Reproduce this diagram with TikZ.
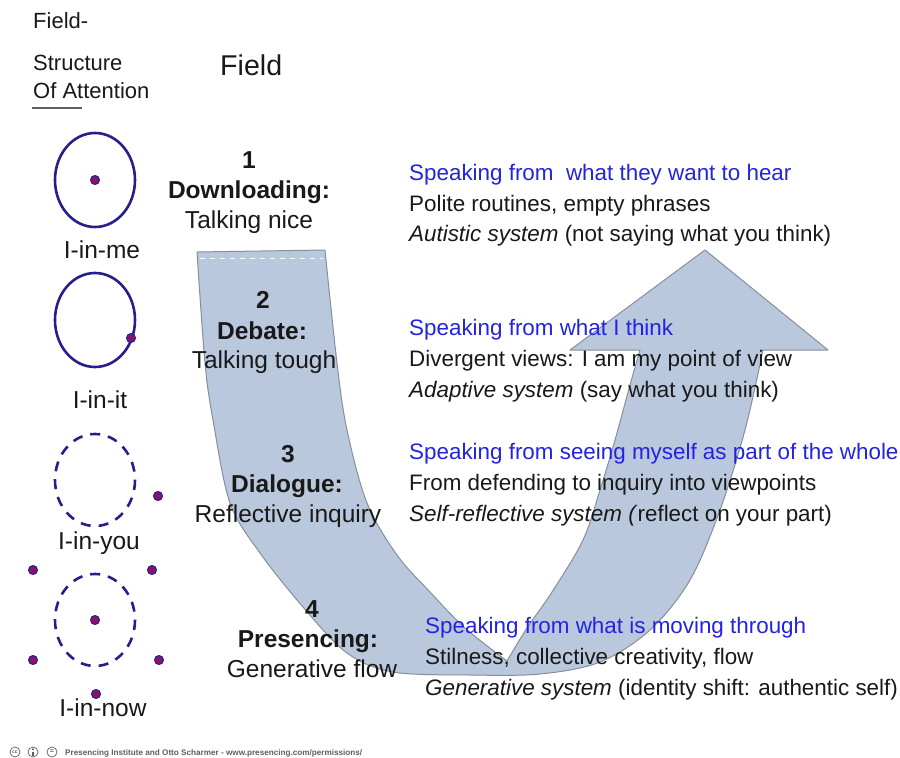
\documentclass[tikz,border=0pt]{standalone}
\usepackage{fontspec}
\setmainfont{Liberation Sans}
\definecolor{navyc}{RGB}{38,30,140}
\definecolor{dotc}{RGB}{135,20,105}
\definecolor{bluet}{RGB}{35,35,225}
\definecolor{blackt}{RGB}{25,25,25}
\definecolor{arrowf}{RGB}{185,200,221}
\definecolor{arrowd}{RGB}{135,143,155}
\definecolor{footg}{RGB}{95,95,95}
\tikzset{
  ring/.style={draw=navyc, line width=2.6pt},
  dashring/.style={ring, dash pattern=on 10pt off 8pt},
  pdot/.style={circle, fill=dotc, draw=navyc, line width=1pt, minimum size=9pt, inner sep=0pt},
  txt/.style={inner sep=0pt, anchor=base west, text=blackt, font=\fontsize{22.4}{27}\selectfont},
  btxt/.style={txt, text=bluet},
  stage/.style={inner sep=0pt, anchor=base, text=blackt, font=\fontsize{24.5}{29}\selectfont},
  stageb/.style={stage, font=\fontsize{24.5}{29}\selectfont\bfseries},
  headt/.style={inner sep=0pt, anchor=base west, text=blackt, font=\fontsize{22}{27}\selectfont},
  icon/.style={circle, draw=footg, line width=0.7pt, minimum size=10pt, inner sep=0pt, text=footg},
}
\begin{document}
\begin{tikzpicture}[x=1pt,y=-1pt]
\useasboundingbox (0,0) rectangle (900,758);
\fill[white] (0,0) rectangle (900,758);

% U-shaped arrow
\filldraw[fill=arrowf, draw=arrowd, line width=1pt, line join=round]
  (197,252) -- (325,250)
  -- plot[smooth, tension=0.55] coordinates {(325,250) (337,363) (347,430) (367,503) (397,555) (430,592) (465,628) (507,661)}
  -- plot[smooth, tension=0.55] coordinates {(507,661) (527,628) (552,592) (583,540) (600,490) (615,440) (630,385) (640,350)}
  -- (570,350) -- (705,250) -- (828,350) -- (763,350)
  -- plot[smooth, tension=0.55] coordinates {(763,350) (745,430) (720,510) (690,580) (650,630) (600,662) (540,674) (470,675) (393,672) (347,653) (303,607) (260,553) (230,503) (213,420) (205,363) (197,252)}
  -- cycle;
\draw[white, line width=1pt, dash pattern=on 5pt off 5pt] (200,258) -- (323,258);

% header
\node[headt] (h1) at (33,28) {Field-};
\node[headt] (h2) at (33,70) {Structure};
\node[headt] (h3) at (33,98) {Of Attention};
\draw[footg, line width=1.3pt] (32,108) -- (82,108);
\node[inner sep=0pt, anchor=base west, text=blackt, font=\fontsize{28.6}{32}\selectfont] (fld) at (220,75) {Field};

% circles
\draw[ring] (95,180) ellipse [x radius=40, y radius=47];
\node[pdot] (d1) at (95,180) {};
\draw[ring] (95,320) ellipse [x radius=40, y radius=47];
\node[pdot] (d2) at (131,338) {};
\draw[dashring] (95,480) ellipse [x radius=40, y radius=46];
\node[pdot] (d3) at (158,496) {};
\draw[dashring] (95,620) ellipse [x radius=40, y radius=46];
\node[pdot] (d4) at (95,620) {};
\node[pdot] (d5) at (33,570) {};
\node[pdot] (d6) at (152,570) {};
\node[pdot] (d7) at (33,660) {};
\node[pdot] (d8) at (159,660) {};

\node[stage] (l1) at (102,258) {I-in-me};
\node[stage] (l2) at (100,408) {I-in-it};
\node[stage] (l3) at (99,549) {I-in-you};
\node[stage] (l4) at (103,716) {I-in-now};
\node[pdot] (d9) at (96,694) {};

% stages
\node[stageb] (s1n) at (249,168) {1};
\node[stageb] (s1a) at (249,198) {Downloading:};
\node[stage]  (s1b) at (249,228) {Talking nice};
\node[stageb] (s2n) at (263,308) {2};
\node[stageb] (s2a) at (262,339) {Debate:};
\node[stage]  (s2b) at (264,368) {Talking tough};
\node[stageb] (s3n) at (288,462) {3};
\node[stageb] (s3a) at (287,492) {Dialogue:};
\node[stage]  (s3b) at (288,522) {Reflective inquiry};
\node[stageb] (s4n) at (312,617) {4};
\node[stageb] (s4a) at (308,647) {Presencing:};
\node[stage]  (s4b) at (312,677) {Generative flow};

% right texts
\node[btxt] (t1a) at (409,180) {Speaking from\ \ what they want to hear};
\node[txt]  (t1b) at (409,211) {Polite routines, empty phrases};
\node[txt]  (t1c) at (409,241) {\textit{Autistic system} (not saying what you think)};
\node[btxt] (t2a) at (409,335) {Speaking from what I think};
\node[txt]  (t2b) at (409,366) {Divergent views: I am my point of view};
\node[txt]  (t2c) at (409,397) {\textit{Adaptive system} (say what you think)};
\node[btxt] (t3a) at (409,459) {Speaking from seeing myself as part of the whole};
\node[txt]  (t3b) at (409,490) {From defending to inquiry into viewpoints};
\node[txt]  (t3c) at (409,521) {\textit{Self-reflective system (}reflect on your part)};
\node[btxt] (t4a) at (425,633) {Speaking from what is moving through};
\node[txt]  (t4b) at (425,664) {Stilness, collective creativity, flow};
\node[txt]  (t4c) at (425,695) {\textit{Generative system} (identity shift: authentic self)};

% footer
\node[icon] (cc) at (15,752) {\fontsize{5}{5}\selectfont\bfseries cc};
\node[icon] (by) at (33,752) {};
\fill[footg] (33,749.2) circle (1.1);
\draw[footg, line width=1.2pt] (33,751.5) -- (33,755.5);
\node[icon] (nd) at (52,752) {\fontsize{7}{7}\selectfont\bfseries =};
\node[inner sep=0pt, anchor=base west, text=footg, font=\bfseries] (ft) at (65,755)
  {\resizebox{297pt}{!}{Presencing Institute and Otto Scharmer - www.presencing.com/permissions/}};
\end{tikzpicture}
\end{document}
